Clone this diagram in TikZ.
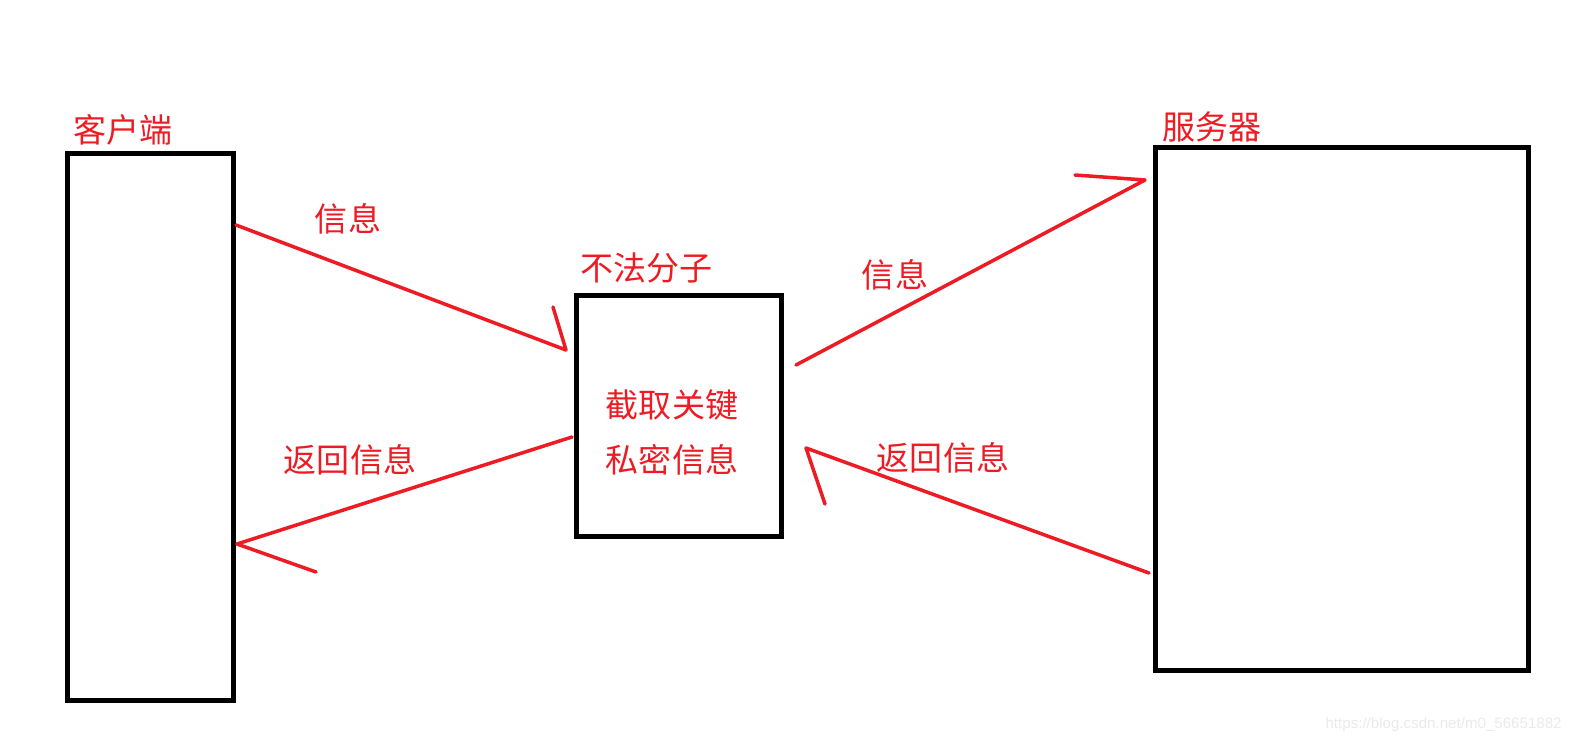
\documentclass[tikz,border=0pt]{standalone}
\usepackage{fontspec}
\setmainfont{Noto Sans CJK SC}
\newfontfamily\markfont{Liberation Sans}
\definecolor{paintred}{RGB}{237,28,36}
\definecolor{markgray}{RGB}{234,234,234}

\tikzset{
  box/.style={draw=black, line width=2.8pt, inner sep=0pt},
  redtext/.style={text=paintred, inner sep=0pt, font=\fontsize{18.8}{31.3}\selectfont},
  stroke/.style={draw=paintred, line width=2pt, line cap=round, line join=round}
}

\begin{document}
\begin{tikzpicture}[x=0.2mm, y=-0.2mm]
  \useasboundingbox (0,0) rectangle (1572,744);

  % boxes
  \node[box, minimum width=33.2mm, minimum height=109.4mm] (client) at (150.5,427) {};
  \node[box, minimum width=41mm, minimum height=48.2mm] (hacker) at (679,416) {};
  \node[box, minimum width=74.6mm, minimum height=104.6mm] (server) at (1342,409) {};

  % labels
  \node[redtext, anchor=west] (clientlabel) at (73,130) {客户端};
  \node[redtext, anchor=west] (hackerlabel) at (580,268) {不法分子};
  \node[redtext, anchor=west] (serverlabel) at (1162,127) {服务器};
  \node[redtext, align=center] (steal) at (672,432) {截取关键\\私密信息};
  \node[redtext] (sendleft) at (348,219) {信息};
  \node[redtext] (sendright) at (895,275) {信息};
  \node[redtext] (backleft) at (350,460) {返回信息};
  \node[redtext] (backright) at (943,458) {返回信息};

  % arrow ends
  \coordinate (a1s) at (236,225);
  \coordinate (a1t) at (566,350);
  \coordinate (a1b) at (553,307);
  \coordinate (a2s) at (796,365);
  \coordinate (a2t) at (1145,180);
  \coordinate (a2b) at (1075,175);
  \coordinate (a3s) at (572,437);
  \coordinate (a3t) at (237,544);
  \coordinate (a3b) at (316,572);
  \coordinate (a4s) at (1149,573);
  \coordinate (a4t) at (806,448);
  \coordinate (a4b) at (825,504);

  % arrows
  \draw[stroke] (a1s) -- (a1t) -- (a1b);
  \draw[stroke] (a2s) -- (a2t) -- (a2b);
  \draw[stroke] (a3s) -- (a3t) -- (a3b);
  \draw[stroke] (a4s) -- (a4t) -- (a4b);

  \node[anchor=east, text=markgray, inner sep=0pt, font=\markfont\fontsize{8.6}{10}\selectfont] (mark) at (1562,725) {https://blog.csdn.net/m0\_56651882};
\end{tikzpicture}
\end{document}
